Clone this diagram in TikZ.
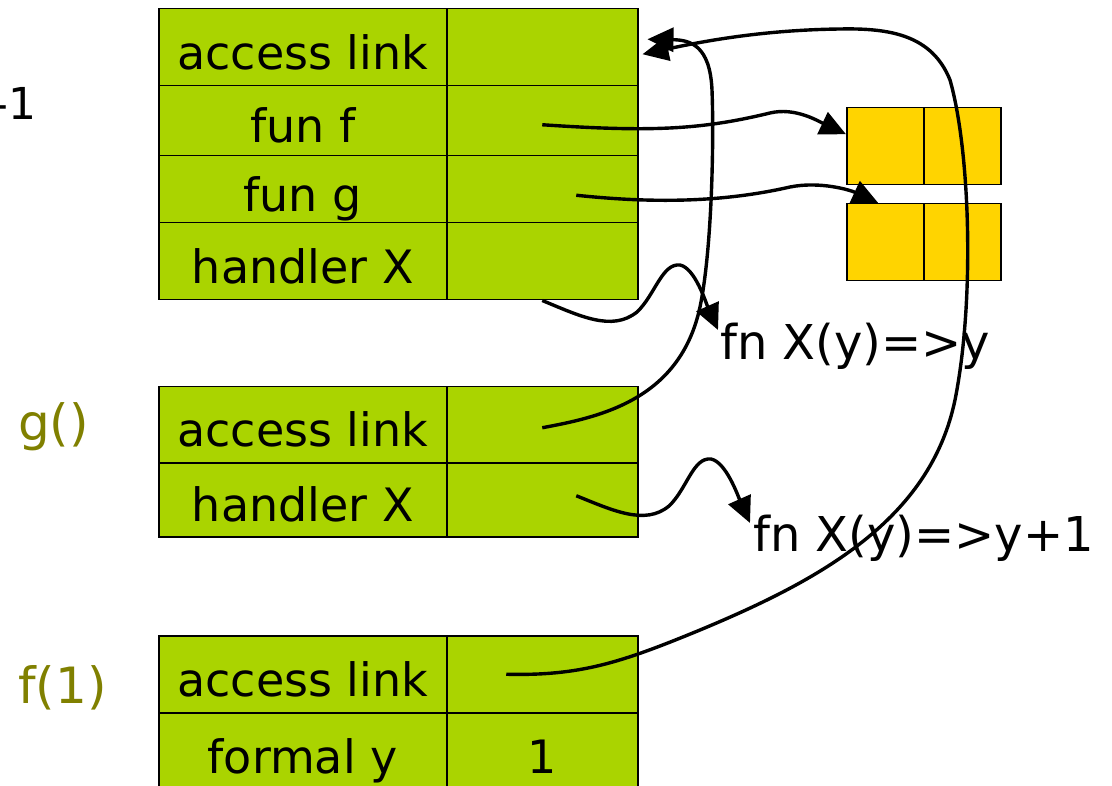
\documentclass[tikz,border=0pt]{standalone}
\usepackage{fontspec}
\setmainfont{DejaVu Sans}
\usetikzlibrary{arrows.meta}
\definecolor{slotgreen}{RGB}{170,212,0}
\definecolor{cloyellow}{RGB}{255,212,0}
\definecolor{callolive}{RGB}{128,128,0}

\begin{document}
\begin{tikzpicture}[x=1pt,y=-1pt,
	font=\fontsize{46}{55}\selectfont,
	cell/.style={draw, line width=1.5pt, fill=slotgreen, anchor=north west, inner sep=0pt, text height=44pt, text depth=0pt, minimum width=288pt},
	val/.style={cell, minimum width=191pt},
	clo/.style={draw, line width=1.5pt, fill=cloyellow, anchor=north west, minimum width=77pt, minimum height=77pt},
	handler/.style={anchor=west, inner sep=0pt, font=\fontsize{48}{58}\selectfont},
	call/.style={anchor=west, inner sep=0pt, text=callolive, font=\fontsize{50}{60}\selectfont},
	link/.style={line width=3.4pt, -{Triangle[length=26pt,width=24pt]}}]
	\useasboundingbox (0,0) rectangle (1112,786);

	% frame of the caller
	\node (al1)  at (158,   8)	[cell, minimum height=77pt]	{access link};
	\node (al1v) at (446,   8)	[val,  minimum height=77pt]	{};
	\node (funf) at (158,  85)	[cell, minimum height=70pt]	{fun f};
	\node (funfv) at (446, 85)	[val,  minimum height=70pt]	{};
	\node (fung) at (158, 155)	[cell, minimum height=67pt]	{fun g};
	\node (fungv) at (446,155)	[val,  minimum height=67pt]	{};
	\node (hx1)  at (158, 222)	[cell, minimum height=77pt]	{handler X};
	\node (hx1v) at (446, 222)	[val,  minimum height=77pt]	{};
	\node (top)  at ( -8, 120)	[anchor=base west, inner sep=0pt, font=\fontsize{44}{52}\selectfont]	{-1};

	% frame of g()
	\node (gcall) at (18, 427)	[call]	{g()};
	\node (al2)  at (158, 386)	[cell, minimum height=76pt]	{access link};
	\node (al2v) at (446, 386)	[val,  minimum height=76pt]	{};
	\node (hx2)  at (158, 462)	[cell, minimum height=74pt]	{handler X};
	\node (hx2v) at (446, 462)	[val,  minimum height=74pt]	{};

	% frame of f(1)
	\node (fcall) at (18, 688)	[call]	{f(1)};
	\node (al3)  at (158, 635)	[cell, minimum height=77pt]	{access link};
	\node (al3v) at (446, 635)	[val,  minimum height=77pt]	{};
	\node (fy)   at (158, 712)	[cell, minimum height=77pt]	{formal y};
	\node (fyv)  at (446, 712)	[val,  minimum height=77pt]	{1};

	% closures
	\node (clf1) at (846, 107)	[clo]	{};
	\node (clf2) at (923, 107)	[clo]	{};
	\node (clg1) at (846, 203)	[clo]	{};
	\node (clg2) at (923, 203)	[clo]	{};

	% handlers
	\node (lx1) at (720, 346)	[handler]	{fn X(y)=>y};
	\node (lx2) at (753, 538)	[handler]	{fn X(y)=>y+1};

	\draw[link] ([yshift=-4pt]funfv.center) .. controls (650,132) and (700,130) .. (770,113)
		.. controls (795,107) and (818,121) .. ([yshift=12pt]clf1.west);
	\draw[link] ([xshift=34pt,yshift=-6pt]fungv.center) .. controls (650,203) and (720,203) .. (790,187)
		.. controls (820,181) and (850,190) .. ([xshift=-7pt]clg1.north);
	\draw[link] (hx1v.south) .. controls (580,316) and (612,332) .. (637,312)
		.. controls (655,295) and (662,263) .. (680,265) .. controls (695,268) and (706,303) .. ([xshift=-2pt,yshift=16pt]lx1.west);
	\draw[link] ([xshift=34pt,yshift=4pt]hx2v.center) .. controls (612,510) and (645,526) .. (669,506)
		.. controls (687,489) and (693,457) .. (711,459) .. controls (726,462) and (738,496) .. ([xshift=-3pt,yshift=15pt]lx2.west);
	\draw[link] ([yshift=-3pt]al2v.center) .. controls (600,417) and (680,400) .. (700,307)
		.. controls (712,250) and (714,140) .. (712,90) .. controls (710,45) and (690,40) .. ([xshift=9pt,yshift=8pt]al1v.east);
	\draw[link] ([xshift=-36pt]al3v.center) .. controls (580,676) and (620,663) .. (700,630)
		.. controls (820,580) and (930,520) .. (955,400) .. controls (975,300) and (970,150) .. (950,80)
		.. controls (932,35) and (890,28) .. (840,29) .. controls (760,30) and (700,42) .. ([xshift=4pt,yshift=-7pt]al1v.east);
\end{tikzpicture}
\end{document}
